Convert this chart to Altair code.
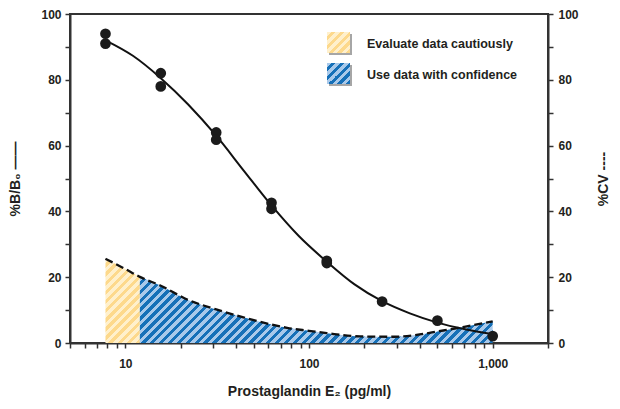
import math
import altair as alt
import pandas as pd

# ---------------- data ----------------
conc_pts = [7.8, 7.8, 15.6, 15.6, 31.25, 31.25, 62.5, 62.5, 125, 125, 250, 500, 1000]
bb0_pts = [94.0, 91.0, 82.0, 78.0, 64.0, 61.8, 42.6, 40.8, 25.0, 24.3, 12.6, 6.8, 2.1]

fit_conc = [7.8, 11, 15.6, 22, 31.25, 44, 62.5, 88, 125, 177, 250, 354, 500, 707, 1000]
fit_bb0 = [92.0, 87.3, 80.5, 72.5, 63.0, 52.5, 41.8, 32.5, 24.7, 17.8, 12.7, 9.0, 6.2, 4.2, 2.7]

cv_conc = [7.8, 10, 12, 15.6, 22, 31.25, 44, 62.5, 76, 100, 125, 190, 290, 400, 500, 700, 1000]
cv_val = [25.6, 22.5, 20.1, 17.4, 13.1, 10.2, 7.8, 5.6, 4.6, 3.7, 3.0, 2.0, 1.9, 2.6, 3.5, 4.9, 6.6]

split_conc = 12  # boundary between "cautious" and "confident" zones

x_domain = [5, 2000]
x_tick_values = [5, 6, 7, 8, 9, 10, 20, 30, 40, 50, 60, 70, 80, 90,
                 100, 200, 300, 400, 500, 600, 700, 800, 900, 1000, 2000]
x_label_values = [10, 100, 1000]
y_tick_values = [0, 10, 20, 30, 40, 50, 60, 70, 80, 90, 100]

legend_labels = ["Evaluate data cautiously", "Use data with confidence"]

# ---------------- style ----------------
W, H = 478, 329
INK = "#231f20"
AXIS = "#333333"
YEL_LIGHT, YEL_DARK = "#fff0cc", "#fdd98c"
BLU_LIGHT, BLU_DARK = "#a9c9ea", "#1670b8"
FONT = "Liberation Sans"


def hatch(c1, c2, w, h, period):
    """Diagonal '/' stripes through a linear gradient in bounding-box units."""
    n = max(1, round((w + h) / period))
    m = (w + h) / (w * w + h * h)
    stops = []
    for i in range(n):
        a, b, c = i / n, (i + 0.5) / n, (i + 1) / n
        stops += [alt.GradientStop(offset=a, color=c1), alt.GradientStop(offset=b, color=c1),
                  alt.GradientStop(offset=b, color=c2), alt.GradientStop(offset=c, color=c2)]
    return alt.Gradient(gradient="linear", x1=0, y1=0, x2=w * m, y2=h * m, stops=stops)


def px_width(x0, x1):
    span = math.log10(x_domain[1]) - math.log10(x_domain[0])
    return (math.log10(x1) - math.log10(x0)) / span * W


pts = pd.DataFrame({"conc": conc_pts, "bb0": bb0_pts})
fit = pd.DataFrame({"conc": fit_conc, "bb0": fit_bb0})
cv = pd.DataFrame({"conc": cv_conc, "cv": cv_val})
cv_yel = cv[cv.conc <= split_conc]
cv_blu = cv[cv.conc >= split_conc]

yel_fill = hatch(YEL_LIGHT, YEL_DARK, px_width(cv_yel.conc.min(), cv_yel.conc.max()),
                 cv_yel.cv.max() / 100 * H, 9)
blu_fill = hatch(BLU_LIGHT, BLU_DARK, px_width(cv_blu.conc.min(), cv_blu.conc.max()),
                 cv_blu.cv.max() / 100 * H, 9)

x_scale = alt.Scale(type="log", domain=x_domain, nice=False)
x_axis = alt.Axis(
    values=x_tick_values,
    labelExpr="indexof(" + str(x_label_values) + ", datum.value) >= 0 ? format(datum.value, ',') : ''",
    title="Prostaglandin E₂ (pg/ml)",
    labelFlush=False, labelOverlap=False, grid=False,
    tickSize=5, labelPadding=10, titlePadding=15,
)
y_scale = alt.Scale(domain=[0, 100], nice=False)
y_left = alt.Axis(orient="left", values=y_tick_values,
                  labelExpr="datum.value % 20 === 0 ? datum.value : ''",
                  title="%B/B₀ ——", grid=False, tickSize=5, labelPadding=4,
                  labelFlush=False, titlePadding=18)
y_right = alt.Axis(orient="right", values=y_tick_values,
                   labelExpr="datum.value % 20 === 0 ? datum.value : ''",
                   title="%CV ----", grid=False, tickSize=5, labelPadding=5,
                   labelFlush=False,
                   titleAngle=270, titleBaseline="top", titlePadding=18)

X = alt.X("conc:Q", scale=x_scale, axis=x_axis)

yel_area = alt.Chart(cv_yel).mark_area(interpolate="monotone", fill=yel_fill).encode(
    x=X, y=alt.Y("cv:Q", scale=y_scale, axis=y_right))
blu_area = alt.Chart(cv_blu).mark_area(interpolate="monotone", fill=blu_fill).encode(
    x=X, y=alt.Y("cv:Q", scale=y_scale, axis=y_right))
cv_line = alt.Chart(cv).mark_line(interpolate="monotone", color="#111111", strokeWidth=2.3,
                                  strokeDash=[8, 4]).encode(
    x=X, y=alt.Y("cv:Q", scale=y_scale, axis=y_right))
cv_layer = alt.layer(yel_area, blu_area, cv_line)

curve = alt.Chart(fit).mark_line(interpolate="monotone", color="#111111", strokeWidth=2).encode(
    x=X, y=alt.Y("bb0:Q", scale=y_scale, axis=y_left))
dots = alt.Chart(pts).mark_circle(size=115, color="#1b1b1b", opacity=1).encode(
    x=X, y=alt.Y("bb0:Q", scale=y_scale, axis=y_left))
b_layer = alt.layer(curve, dots)

# ---------------- custom legend ----------------
leg = []
for i, (label, fill) in enumerate(zip(legend_labels,
                                      [hatch(YEL_LIGHT, YEL_DARK, 23, 21, 9),
                                       hatch(BLU_LIGHT, BLU_DARK, 23, 21, 9)])):
    top = 18 + i * 31
    d = pd.DataFrame({"label": [label]})
    shadow = alt.Chart(d).mark_rect(color="#a6a6a6").encode(
        x=alt.value(259), x2=alt.value(282), y=alt.value(top + 2), y2=alt.value(top + 23))
    box = alt.Chart(d).mark_rect(fill=fill).encode(
        x=alt.value(257), x2=alt.value(280), y=alt.value(top), y2=alt.value(top + 21))
    txt = alt.Chart(d).mark_text(align="left", baseline="middle", font=FONT,
                                 fontWeight="bold", fontSize=12.5, color=INK).encode(
        x=alt.value(297), y=alt.value(top + 12), text="label:N")
    leg += [shadow, box, txt]

chart = alt.layer(cv_layer, b_layer, *leg).resolve_scale(y="independent").properties(
    width=W, height=H,
    background="white",
    autosize=alt.AutoSizeParams(type="none"),
    padding={"left": 62, "top": 6, "right": 64, "bottom": 62},
).configure_view(stroke=AXIS, strokeWidth=2).configure_axis(
    domainColor=AXIS, domainWidth=2, tickColor=AXIS, tickWidth=1.5,
    labelFont=FONT, labelFontWeight="bold", labelFontSize=12, labelColor=INK,
    titleFont=FONT, titleFontWeight="bold", titleFontSize=14, titleColor=INK,
)

chart.save("out.html", embed_options={"renderer": "svg", "actions": False})
